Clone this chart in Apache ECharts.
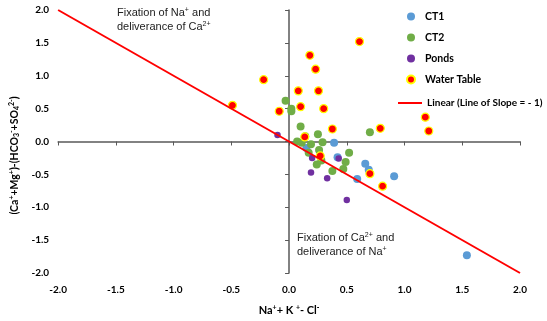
<!DOCTYPE html>
<html>
<head>
<meta charset="utf-8">
<script src="https://cdn.jsdelivr.net/npm/echarts@6/dist/echarts.min.js"></script>
<style>
  html, body { margin: 0; padding: 0; background: #fff; }
  #chart { width: 547px; height: 321px; }
</style>
</head>
<body>
<div id="chart"></div>
<script>
  // values: [Na+K-Cl, (Ca+Mg)-(HCO3+SO4)]
  var ct1 = [
    [0.39, -0.02], [0.15, -0.10], [0.42, -0.24], [0.66, -0.34],
    [0.69, -0.43], [0.59, -0.57], [0.91, -0.53], [1.54, -1.73]
  ]
  var ct2 = [
    [-0.03, 0.62], [0.02, 0.50], [0.02, 0.46], [0.10, 0.23], [0.25, 0.11],
    [0.70, 0.14], [0.14, 0.08], [0.07, 0.00], [0.11, -0.02], [0.19, -0.04],
    [0.29, -0.01], [0.26, -0.13], [0.17, -0.17], [0.24, -0.35], [0.28, -0.29],
    [0.375, -0.45], [0.47, -0.42], [0.49, -0.31], [0.52, -0.17]
  ]
  var ponds = [
    [-0.10, 0.10], [0.20, -0.25], [0.43, -0.26], [0.19, -0.47], [0.33, -0.56], [0.50, -0.89]
  ]
  var waterTable = [
    [-0.22, 0.94], [-0.49, 0.55], [-0.085, 0.46], [0.18, 1.31], [0.23, 1.10],
    [0.61, 1.52], [0.08, 0.77], [0.255, 0.77], [0.10, 0.53], [0.30, 0.50],
    [0.375, 0.19], [0.79, 0.20], [0.136, 0.07], [0.27, -0.22], [0.70, -0.49],
    [0.81, -0.68], [1.18, 0.37], [1.21, 0.16]
  ]
  var slopeLine = [[-2, 2], [2, -2]]
  var axisMin = -2
  var axisMax = 2
  var axisStep = 0.5

  var boldFont = 'Lato'
  var plainFont = 'Liberation Sans'
  var axisColor = '#595959'

  var chart = echarts.init(document.getElementById('chart'))

  var supSub = {
    sup: { fontSize: 7, fontWeight: 'bold', fontFamily: boldFont, padding: [0, 0, 6, 0] },
    sub: { fontSize: 7, fontWeight: 'bold', fontFamily: boldFont, padding: [5, 0, 0, 0] }
  }
  var noteRich = {
    sup: { fontSize: 7, fontFamily: plainFont, fill: '#222', padding: [0, 0, 5, 0] }
  }

  function fmt (v) { return v.toFixed(1) }

  var legendText = { fontFamily: boldFont, fontWeight: 'bold', fontSize: 10.5, color: '#000' }

  var option = {
    animation: false,
    grid: { left: 50, right: 27, top: 10, bottom: 44 },
    legend: [
      {
        orient: 'vertical',
        left: 401,
        top: 6,
        itemWidth: 18,
        itemHeight: 8,
        itemGap: 10,
        icon: 'circle',
        textStyle: legendText,
        data: ['CT1', 'CT2', 'Ponds', 'Water Table']
      },
      {
        orient: 'vertical',
        left: 393,
        top: 93,
        itemWidth: 24,
        itemHeight: 2,
        textStyle: { fontFamily: boldFont, fontWeight: 'bold', fontSize: 10, color: '#000' },
        data: [{ name: 'Linear (Line of Slope = - 1)', icon: 'rect' }]
      }
    ],
    xAxis: [
      {
        type: 'value', min: axisMin, max: axisMax, interval: axisStep,
        position: 'bottom',
        name: 'Na{sup|+}+ K {sup|+}- Cl{sup|-}',
        nameLocation: 'middle',
        nameGap: 31,
        nameTextStyle: { fontFamily: boldFont, fontWeight: 'bold', fontSize: 11, color: '#000', rich: supSub },
        axisLine: { show: false, onZero: false },
        axisTick: { show: false },
        splitLine: { show: false },
        axisLabel: { formatter: fmt, margin: 12, fontFamily: boldFont, fontWeight: 'bold', fontSize: 10, color: '#000' }
      },
      {
        type: 'value', min: axisMin, max: axisMax, interval: axisStep,
        position: 'bottom',
        axisLine: { show: true, onZero: true, onZeroAxisIndex: 0, lineStyle: { color: axisColor, width: 1.5 } },
        axisTick: { show: true, length: 4, lineStyle: { color: axisColor } },
        axisLabel: { show: false },
        splitLine: { show: false }
      }
    ],
    yAxis: [
      {
        type: 'value', min: axisMin, max: axisMax, interval: axisStep,
        position: 'left',
        name: '(Ca{sup|+}+Mg{sup|+})-(HCO{sub|3}{sup|-}+SO{sub|4}{sup|2-})',
        nameLocation: 'middle',
        nameGap: 35,
        nameRotate: 90,
        nameTextStyle: { fontFamily: boldFont, fontWeight: 'bold', fontSize: 10.5, color: '#000', rich: supSub, padding: [0, 28, 0, 0] },
        axisLine: { show: false, onZero: false },
        axisTick: { show: false },
        splitLine: { show: false },
        axisLabel: { formatter: fmt, margin: 9, fontFamily: boldFont, fontWeight: 'bold', fontSize: 10, color: '#000' }
      },
      {
        type: 'value', min: axisMin, max: axisMax, interval: axisStep,
        position: 'left',
        axisLine: { show: true, onZero: true, onZeroAxisIndex: 0, lineStyle: { color: axisColor, width: 1.5 } },
        axisTick: { show: true, length: 4, lineStyle: { color: axisColor } },
        axisLabel: { show: false },
        splitLine: { show: false }
      }
    ],
    graphic: [
      {
        type: 'text', left: 117, top: 6,
        style: {
          text: 'Fixation of Na{sup|+} and\ndeliverance of Ca{sup|2+}',
          fontFamily: plainFont, fontSize: 11, fill: '#222', lineHeight: 14, rich: noteRich
        }
      },
      {
        type: 'text', left: 297, top: 231,
        style: {
          text: 'Fixation of Ca{sup|2+} and\ndeliverance of Na{sup|+}',
          fontFamily: plainFont, fontSize: 11, fill: '#222', lineHeight: 14, rich: noteRich
        }
      }
    ],
    series: [
      {
        name: 'CT1', type: 'scatter', symbolSize: 8,
        itemStyle: { color: '#5B9BD5', opacity: 1 },
        data: ct1
      },
      {
        name: 'CT2', type: 'scatter', symbolSize: 8,
        itemStyle: { color: '#70AD47', opacity: 1 },
        data: ct2
      },
      {
        name: 'Ponds', type: 'scatter', symbolSize: 6.5,
        itemStyle: { color: '#7030A0', opacity: 1 },
        data: ponds
      },
      {
        name: 'Water Table', type: 'scatter', symbolSize: 8,
        itemStyle: { color: '#FF0000', borderColor: '#FFFF00', borderWidth: 1.2, opacity: 1 },
        data: waterTable
      },
      {
        name: 'Linear (Line of Slope = - 1)', type: 'line', symbol: 'none',
        lineStyle: { color: '#FF0000', width: 2 },
        itemStyle: { color: '#FF0000' },
        data: slopeLine
      }
    ]
  }

  chart.setOption(option)
</script>
</body>
</html>
